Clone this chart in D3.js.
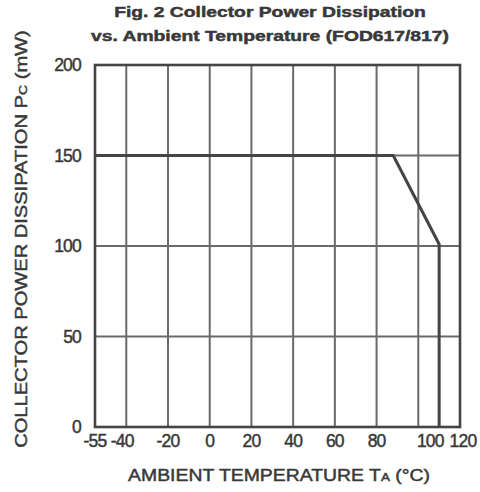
<!DOCTYPE html>
<html>
<head>
<meta charset="utf-8">
<script src="https://cdn.jsdelivr.net/npm/d3@7"></script>
<style>
  html, body { margin: 0; padding: 0; background: #fff; }
  svg { display: block; }
  text { font-family: "Liberation Sans", Arial, sans-serif; fill: #383838; }
  .heavy { stroke: #383838; stroke-width: 0.45px; }
</style>
</head>
<body>
<svg id="chart" width="480" height="492"></svg>
<script>
// Derating curve: collector power dissipation vs ambient temperature
const tempC = [-55, 88, 110, 110];
const powerMW = [150, 150, 101, 0];

const xTicks = [-55, -40, -20, 0, 20, 40, 60, 80, 100, 120];
const xGrid = [-40, -20, 0, 20, 40, 60, 80, 100];
const yTicks = [0, 50, 100, 150, 200];
const yGrid = [50, 100, 150];

const titleLines = ["Fig. 2 Collector Power Dissipation", "vs. Ambient Temperature (FOD617/817)"];

const svg = d3.select("#chart");
const x = d3.scaleLinear().domain([-55, 120]).range([95, 460]);
const y = d3.scaleLinear().domain([0, 200]).range([427, 65]);

const gridColor = "#6a6a6a";
const inkColor = "#444";

// grid
svg.append("g").selectAll("line").data(xGrid).join("line")
  .attr("x1", d => x(d)).attr("x2", d => x(d))
  .attr("y1", y(200)).attr("y2", y(0))
  .attr("stroke", gridColor).attr("stroke-width", 2);
svg.append("g").selectAll("line").data(yGrid).join("line")
  .attr("x1", x(-55)).attr("x2", x(120))
  .attr("y1", d => y(d)).attr("y2", d => y(d))
  .attr("stroke", gridColor).attr("stroke-width", 2);

// frame
svg.append("rect")
  .attr("x", x(-55)).attr("y", y(200))
  .attr("width", x(120) - x(-55)).attr("height", y(0) - y(200))
  .attr("fill", "none").attr("stroke", inkColor).attr("stroke-width", 2.6);

// derating curve
const pts = tempC.map((t, i) => [t, powerMW[i]]);
svg.append("path")
  .attr("d", d3.line().x(d => x(d[0])).y(d => y(d[1]))(pts))
  .attr("fill", "none").attr("stroke", inkColor).attr("stroke-width", 3)
  .attr("stroke-linejoin", "miter");

// tick labels
const xNudge = { "-40": -4, "100": 12, "120": 3 };
svg.append("g").selectAll("text").data(xTicks).join("text")
  .attr("class", "heavy")
  .attr("x", d => x(d) + (xNudge[d] || 0)).attr("y", 447)
  .attr("text-anchor", "middle")
  .attr("font-size", 17.5)
  .attr("letter-spacing", -0.8)
  .text(d => d);

svg.append("g").selectAll("text").data(yTicks).join("text")
  .attr("class", "heavy")
  .attr("x", 81).attr("y", d => y(d))
  .attr("dy", "0.36em")
  .attr("text-anchor", "end")
  .attr("font-size", 17.5)
  .attr("letter-spacing", -0.8)
  .text(d => d);

// stretch a centred text horizontally to a given width
function fitWidth(sel, width) {
  const w = sel.node().getComputedTextLength();
  return width / w;
}

// title
const titleSpecs = [{ y: 17, w: 312 }, { y: 41, w: 358 }];
titleLines.forEach((line, i) => {
  const t = svg.append("text")
    .attr("class", "heavy")
    .attr("text-anchor", "middle")
    .attr("font-size", 14)
    .attr("font-weight", "bold")
    .text(line);
  const k = fitWidth(t, titleSpecs[i].w);
  t.attr("transform", `translate(270,${titleSpecs[i].y}) scale(${k},1)`);
});

// x axis title
const xt = svg.append("text")
  .attr("class", "heavy")
  .attr("text-anchor", "middle")
  .attr("font-size", 16.5);
xt.append("tspan").text("AMBIENT TEMPERATURE T");
xt.append("tspan").attr("font-size", 11.5).text("A");
xt.append("tspan").text(" (°C)");
const kx = fitWidth(xt, 302);
xt.attr("transform", `translate(279,481) scale(${kx},1)`);

// y axis title
const yt = svg.append("text")
  .attr("class", "heavy")
  .attr("text-anchor", "middle")
  .attr("font-size", 16.5);
yt.append("tspan").text("COLLECTOR POWER DISSIPATION P");
yt.append("tspan").attr("font-size", 11.5).text("C");
yt.append("tspan").text(" (mW)");
const ky = fitWidth(yt, 418);
yt.attr("transform", `translate(27,239) rotate(-90) scale(${ky},1)`);
</script>
</body>
</html>
